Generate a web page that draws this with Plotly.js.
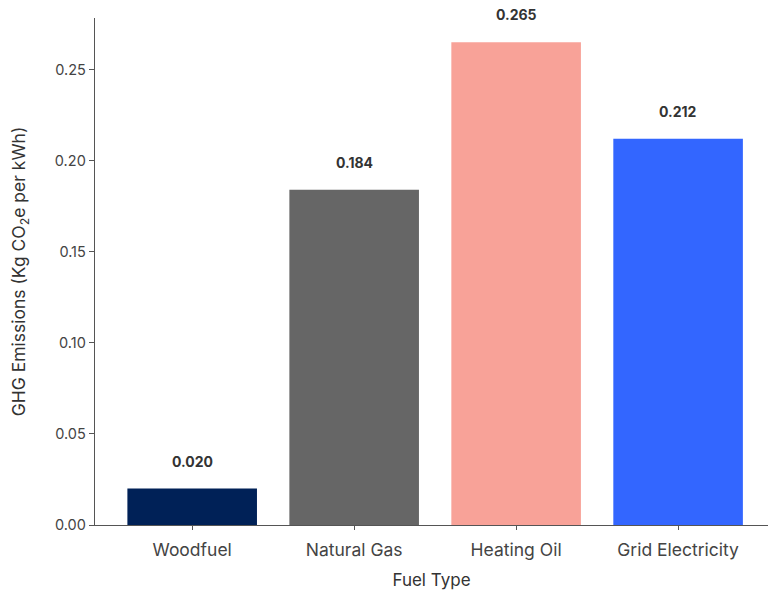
<!DOCTYPE html>
<html>
<head>
<meta charset="utf-8">
<script src="https://cdn.plot.ly/plotly-3.0.1.min.js"></script>
<style>
  html, body { margin: 0; padding: 0; background: #ffffff; }
  #chart { width: 768px; height: 598px; }
</style>
</head>
<body>
<div id="chart"></div>
<script>
// Emission factors per fuel type (kg CO2e per kWh)
const fuelTypes = ["Woodfuel", "Natural Gas", "Heating Oil", "Grid Electricity"];
const emissions = [0.020, 0.184, 0.265, 0.212];
const barColors = ["#002157", "#666666", "#F8A298", "#3366FF"];
const yTickVals = [0.00, 0.05, 0.10, 0.15, 0.20, 0.25];
const yTickText = ["0.00", "0.05", "0.10", "0.15", "0.20", "0.25"];

const fontFamily = "Inter, 'Open Sans', sans-serif";
const textColor = "#444444";

const trace = {
  type: "bar",
  x: fuelTypes,
  y: emissions,
  width: 0.8,
  marker: { color: barColors, line: { width: 0 } },
  hoverinfo: "x+y"
};

// Value labels above each bar
const annotations = fuelTypes.map((name, i) => ({
  x: name,
  y: emissions[i],
  xref: "x",
  yref: "y",
  text: "<b>" + emissions[i].toFixed(3) + "</b>",
  showarrow: false,
  yanchor: "bottom",
  yshift: 17,
  font: { family: fontFamily, size: 14, color: "#333333" }
}));

const layout = {
  width: 768,
  height: 598,
  margin: { l: 95, r: 0, t: 18, b: 73 },
  paper_bgcolor: "#ffffff",
  plot_bgcolor: "#ffffff",
  showlegend: false,
  font: { family: fontFamily, size: 14, color: textColor },
  xaxis: {
    type: "category",
    range: [-0.6, 3.555],
    showline: true,
    linecolor: "#555555",
    linewidth: 1.3,
    ticks: "outside",
    ticklen: 4,
    tickcolor: "#555555",
    ticklabelstandoff: 5,
    showgrid: false,
    zeroline: false,
    tickfont: { family: fontFamily, size: 17.5, color: textColor },
    title: { text: "Fuel Type", font: { family: fontFamily, size: 17, color: "#333333" }, standoff: 14 }
  },
  yaxis: {
    range: [0, 0.27825],
    tickvals: yTickVals,
    ticktext: yTickText,
    showline: true,
    linecolor: "#555555",
    linewidth: 1.3,
    ticks: "outside",
    ticklen: 5,
    tickcolor: "#555555",
    showgrid: false,
    zeroline: false,
    tickfont: { family: fontFamily, size: 14.5, color: textColor },
    title: { text: "GHG Emissions (Kg CO<sub>2</sub>e per kWh)", font: { family: fontFamily, size: 17.5, color: "#333333" }, standoff: 24 }
  },
  annotations: annotations
};

Plotly.newPlot("chart", [trace], layout, { displayModeBar: false, staticPlot: true });
</script>
</body>
</html>
